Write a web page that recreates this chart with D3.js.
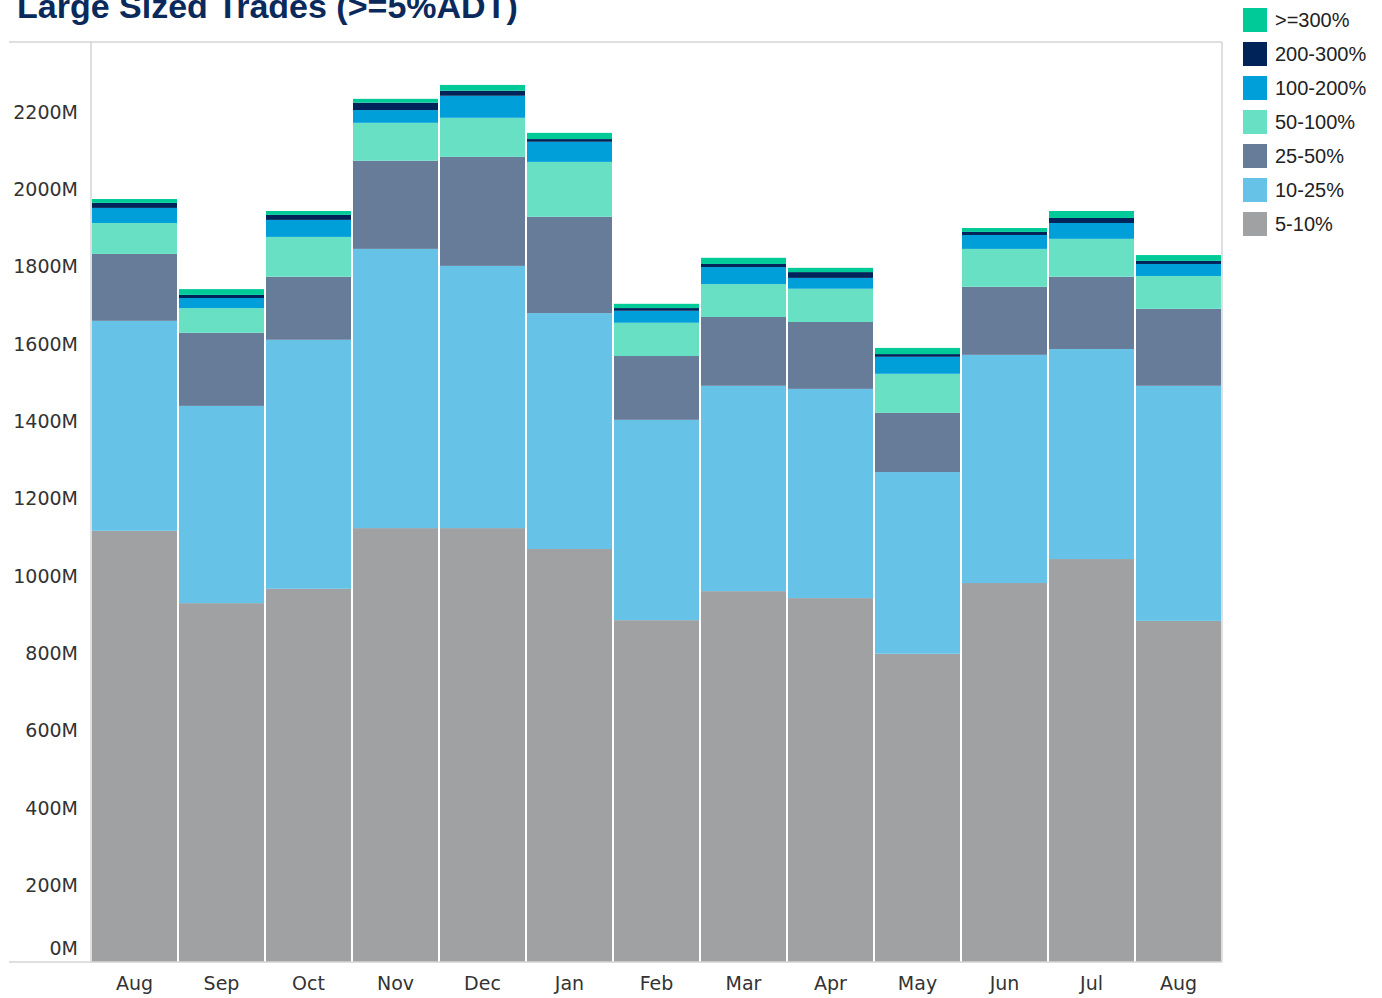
<!DOCTYPE html>
<html>
<head>
<meta charset="utf-8">
<script src="https://cdn.jsdelivr.net/npm/d3@7"></script>
<style>
  body { margin: 0; background: #fff; }
  svg { display: block; }
</style>
</head>
<body>
<svg id="chart"></svg>
<script>
// Months shown on the x axis
const months = ["Aug", "Sep", "Oct", "Nov", "Dec", "Jan", "Feb", "Mar", "Apr", "May", "Jun", "Jul", "Aug"];

// Series values in millions, bottom to top
const pct5to10    = [1115, 928, 965, 1122, 1122, 1068, 884, 959, 941, 797, 980, 1042, 882];
const pct10to25   = [543, 510, 644, 722, 678, 610, 518, 531, 541, 470, 590, 543, 608];
const pct25to50   = [173, 189, 163, 228, 282, 249, 165, 178, 173, 153, 176, 187, 199];
const pct50to100  = [80, 64, 103, 98, 101, 142, 86, 85, 86, 101, 98, 98, 85];
const pct100to200 = [39, 26, 44, 33, 57, 52, 31, 44, 28, 44, 36, 41, 31];
const pct200to300 = [13, 8, 13, 19, 13, 7, 7, 8, 15, 7, 8, 13, 8];
const pct300plus  = [10, 15, 10, 10, 15, 16, 11, 16, 11, 16, 10, 18, 15];

const seriesNames = ["5-10%", "10-25%", "25-50%", "50-100%", "100-200%", "200-300%", ">=300%"];
const seriesColors = ["#a0a1a3", "#67c2e8", "#677c99", "#67e0c4", "#009fda", "#00245a", "#00cb98"];
const yTicks = [0, 200, 400, 600, 800, 1000, 1200, 1400, 1600, 1800, 2000, 2200];

// Build rows for the stack layout
const seriesArrays = [pct5to10, pct10to25, pct25to50, pct50to100, pct100to200, pct200to300, pct300plus];
const data = months.map((m, i) => {
    const row = { idx: i, month: m };
    seriesNames.forEach((s, j) => { row[s] = seriesArrays[j][i]; });
    return row;
});

const width = 1382, height = 998;
const margin = { top: 42, right: 160, bottom: 36, left: 91 };

const svg = d3.select("#chart")
              .attr("width", width)
              .attr("height", height);

// Scales
const xScale = d3.scaleBand()
                 .domain(data.map(d => d.idx))
                 .range([margin.left, width - margin.right])
                 .padding(0);

const yScale = d3.scaleLinear()
                 .domain([0, 2379])
                 .range([height - margin.bottom, margin.top]);

const stacked = d3.stack().keys(seriesNames)(data);

// Bars
svg.append("g")
   .selectAll("g")
   .data(stacked)
   .join("g")
   .attr("fill", (d, i) => seriesColors[i])
   .selectAll("rect")
   .data(d => d)
   .join("rect")
   .attr("x", d => xScale(d.data.idx) + 1)
   .attr("width", xScale.bandwidth() - 2)
   .attr("y", d => yScale(d[1]))
   .attr("height", d => yScale(d[0]) - yScale(d[1]));

// Frame lines
const frame = svg.append("g").attr("stroke", "#d4d4d4").attr("stroke-width", 1.5);
frame.append("line")
     .attr("x1", 9).attr("x2", width - margin.right)
     .attr("y1", margin.top).attr("y2", margin.top);
frame.append("line")
     .attr("x1", 9).attr("x2", width - margin.right)
     .attr("y1", height - margin.bottom).attr("y2", height - margin.bottom);
frame.append("line")
     .attr("x1", margin.left).attr("x2", margin.left)
     .attr("y1", margin.top).attr("y2", height - margin.bottom);
frame.append("line")
     .attr("x1", width - margin.right).attr("x2", width - margin.right)
     .attr("y1", margin.top).attr("y2", height - margin.bottom);

// Y axis labels
const yAxis = svg.append("g")
   .attr("transform", `translate(${margin.left}, 0)`)
   .call(d3.axisLeft(yScale).tickValues(yTicks).tickSize(0).tickPadding(13)
           .tickFormat(d => d + "M"));
yAxis.select(".domain").remove();
yAxis.selectAll("text")
     .attr("font-family", "DejaVu Sans")
     .attr("font-size", 19)
     .attr("fill", "#333")
     .attr("dy", d => d === 0 ? "-0.4em" : "0.36em");

// X axis labels
const xAxis = svg.append("g")
   .attr("transform", `translate(0, ${height - margin.bottom})`)
   .call(d3.axisBottom(xScale).tickSize(0).tickPadding(15)
           .tickFormat(i => months[i]));
xAxis.select(".domain").remove();
xAxis.selectAll("text")
     .attr("font-family", "DejaVu Sans")
     .attr("font-size", 19)
     .attr("fill", "#333");

// Title (clipped at top as in the original)
svg.append("text")
   .attr("x", 17)
   .attr("y", 18)
   .attr("font-family", "Liberation Sans, Arial")
   .attr("font-weight", "bold")
   .attr("font-size", 34)
   .attr("fill", "#0b2a5c")
   .text("Large Sized Trades (>=5%ADT)");

// Legend, top item is >=300%
const legendItems = seriesNames.map((s, i) => ({ name: s, color: seriesColors[i] })).reverse();
const legend = svg.append("g")
   .attr("transform", "translate(1243, 8)")
   .selectAll("g")
   .data(legendItems)
   .join("g")
   .attr("transform", (d, i) => `translate(0, ${i * 34})`);
legend.append("rect")
      .attr("width", 24).attr("height", 24)
      .attr("fill", d => d.color);
legend.append("text")
      .attr("x", 32).attr("y", 12).attr("dy", "0.35em")
      .attr("font-family", "Liberation Sans, Arial")
      .attr("font-size", 20)
      .attr("fill", "#222")
      .text(d => d.name);
</script>
</body>
</html>
